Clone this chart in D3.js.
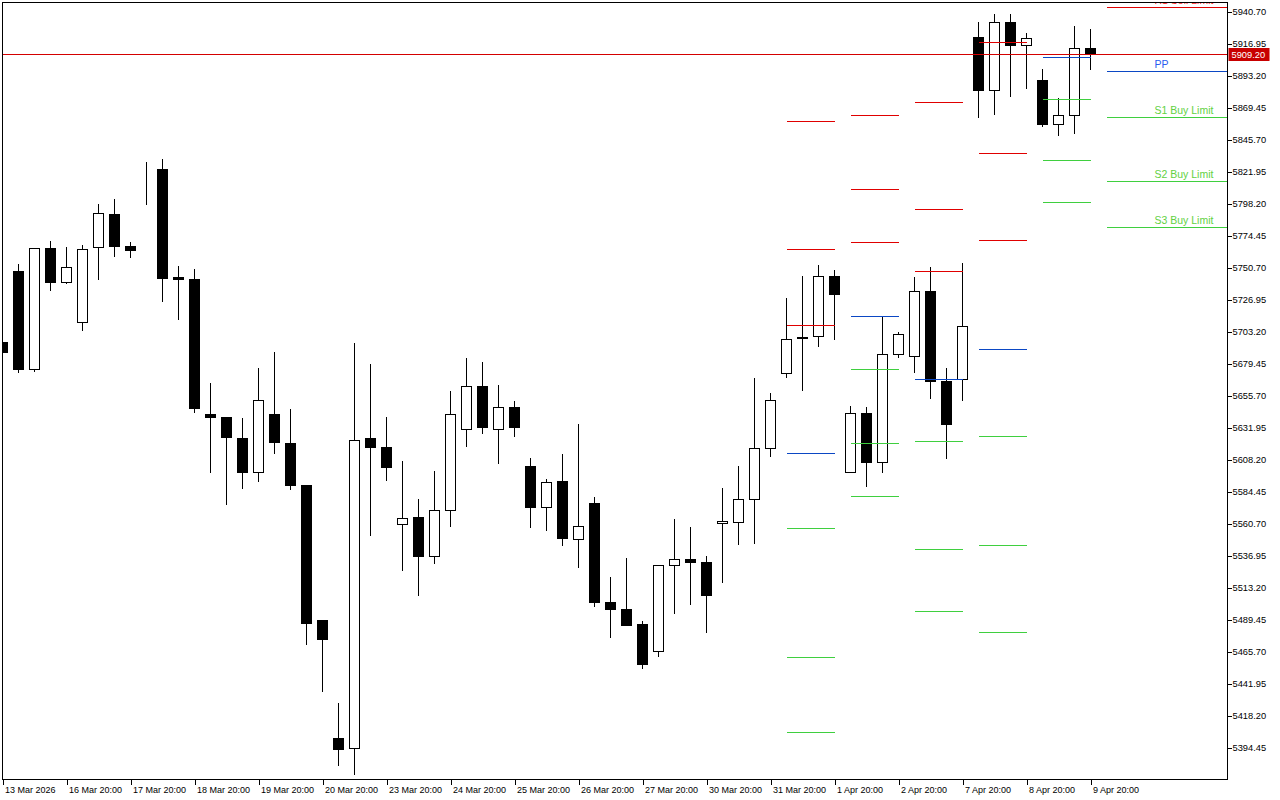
<!DOCTYPE html>
<html>
<head>
<meta charset="utf-8">
<script src="https://cdn.jsdelivr.net/npm/d3@7"></script>
<style>
  html, body { margin: 0; padding: 0; background: #fff; }
  svg { display: block; font-family: "Liberation Sans", Arial, sans-serif; }
</style>
</head>
<body>
<div id="chart"></div>
<script>
// Time axis labels (one every 4 bars)
const tickDates = ['13 Mar 2026', '16 Mar 20:00', '17 Mar 20:00', '18 Mar 20:00', '19 Mar 20:00', '20 Mar 20:00',
  '23 Mar 20:00', '24 Mar 20:00', '25 Mar 20:00', '26 Mar 20:00', '27 Mar 20:00', '30 Mar 20:00',
  '31 Mar 20:00', '1 Apr 20:00', '2 Apr 20:00', '7 Apr 20:00', '8 Apr 20:00', '9 Apr 20:00'];

// Price axis labels
const priceTicks = [5940.70, 5916.95, 5893.20, 5869.45, 5845.70, 5821.95, 5798.20, 5774.45, 5750.70, 5726.95,
  5703.20, 5679.45, 5655.70, 5631.95, 5608.20, 5584.45, 5560.70, 5536.95, 5513.20, 5489.45, 5465.70, 5441.95,
  5418.20, 5394.45];

// OHLC, one value per bar
const opens = [5695.6, 5748.2, 5675.0, 5765.1, 5739.6, 5709.9, 5765.5, 5790.6, 5766.6, 5823.7,
  5824.0, 5743.8, 5742.3, 5642.1, 5639.7, 5624.1, 5598.8, 5642.1, 5620.6, 5589.4,
  5488.7, 5401.6, 5394.0, 5624.3, 5617.6, 5560.2, 5565.7, 5536.5, 5570.6, 5630.8,
  5662.9, 5630.8, 5647.3, 5603.5, 5572.9, 5592.4, 5549.1, 5576.1, 5502.6, 5497.4,
  5486.3, 5466.0, 5529.8, 5534.3, 5532.0, 5561.0, 5561.7, 5578.8, 5616.7, 5672.3,
  5699.0, 5699.8, 5744.3, 5598.8, 5642.6, 5606.3, 5686.4, 5684.9, 5733.2, 5666.6,
  5667.9, 5921.9, 5882.4, 5932.8, 5915.5, 5889.3, 5857.1, 5863.8, 5913.5];
const highs = [5696.3, 5754.0, 5765.4, 5771.3, 5766.8, 5768.3, 5798.7, 5802.2, 5770.5, 5829.9,
  5831.9, 5752.7, 5750.5, 5665.6, 5640.6, 5639.7, 5676.8, 5688.9, 5646.6, 5590.2,
  5490.0, 5428.4, 5695.3, 5680.0, 5640.6, 5608.0, 5579.8, 5600.6, 5659.9, 5684.4,
  5681.5, 5664.4, 5652.5, 5610.2, 5594.6, 5613.2, 5635.4, 5581.3, 5521.9, 5536.0,
  5489.2, 5530.6, 5564.9, 5559.0, 5537.5, 5587.9, 5604.3, 5669.6, 5658.4, 5729.0,
  5745.3, 5753.4, 5749.7, 5648.8, 5648.1, 5714.6, 5703.7, 5744.5, 5752.0, 5677.0,
  5754.9, 5933.8, 5939.0, 5939.0, 5925.6, 5898.2, 5877.4, 5930.8, 5927.9];
const lows = [5687.4, 5672.8, 5673.5, 5733.6, 5739.2, 5703.9, 5741.8, 5758.9, 5758.1, 5797.5,
  5725.5, 5712.1, 5643.1, 5598.5, 5574.8, 5586.7, 5591.9, 5612.9, 5586.2, 5470.9,
  5436.0, 5381.8, 5375.1, 5551.8, 5592.6, 5525.8, 5507.3, 5531.0, 5558.5, 5617.8,
  5627.5, 5605.2, 5625.3, 5557.7, 5555.5, 5544.4, 5528.0, 5499.1, 5476.1, 5485.0,
  5453.1, 5462.0, 5493.9, 5500.6, 5480.5, 5517.6, 5545.1, 5545.9, 5610.4, 5669.1,
  5659.4, 5692.1, 5697.3, 5598.5, 5588.2, 5598.5, 5684.2, 5672.8, 5653.5, 5608.9,
  5652.0, 5862.0, 5864.3, 5877.6, 5883.6, 5855.3, 5848.7, 5850.2, 5897.7];
const closes = [5687.6, 5675.0, 5765.1, 5739.6, 5751.0, 5764.4, 5791.1, 5766.3, 5763.3, 5823.5,
  5742.5, 5741.8, 5646.0, 5639.4, 5624.5, 5598.5, 5652.3, 5620.8, 5588.9, 5486.5,
  5475.3, 5393.0, 5622.8, 5617.1, 5602.3, 5564.7, 5536.2, 5570.6, 5641.9, 5662.7,
  5631.9, 5647.1, 5631.9, 5572.6, 5591.4, 5549.6, 5558.8, 5502.1, 5496.9, 5485.7,
  5456.3, 5529.8, 5534.3, 5531.7, 5507.3, 5562.5, 5578.8, 5616.7, 5652.3, 5697.6,
  5698.0, 5744.3, 5730.7, 5642.6, 5606.0, 5686.4, 5701.3, 5733.2, 5666.1, 5634.2,
  5707.2, 5882.1, 5932.8, 5915.5, 5921.0, 5856.8, 5863.8, 5913.5, 5909.2];

// Daily pivot levels (first bar of each day)
const levelStart = [49, 53, 57, 61, 65];
const r3Levels = [5859.6, 5864.0, 5873.7, 5917.5, 6029.6];
const r2Levels = [5764.6, 5809.1, 5794.3, 5835.8, 5984.3];
const r1Levels = [5708.2, 5769.8, 5748.0, 5771.0, 5952.6];
const ppLevels = [5613.2, 5714.6, 5667.9, 5690.1, 5906.9];
const s1Levels = [5557.5, 5675.3, 5621.9, 5625.6, 5875.7];
const s2Levels = [5461.8, 5620.4, 5541.7, 5544.7, 5830.4];
const s3Levels = [5406.1, 5581.0, 5495.7, 5480.1, 5799.2];

// Current day levels with labels
const futureStart = 69;
const futureNames = ['R1 Sell Limit', 'PP', 'S1 Buy Limit', 'S2 Buy Limit', 'S3 Buy Limit'];
const futureValues = [5944.0, 5896.7, 5862.5, 5815.0, 5780.9];

const currentPrice = 5909.20;

const width = 1280;
const height = 800;
const plotLeft = 2.5, plotTop = 2.5, plotRight = 1227.5, plotBottom = 779.5;

const RED = '#e00000', BLUE = '#0b47c4', GREEN = '#3fcf3f';

function drawChart() {
  const svg = d3.select('#chart').append('svg').attr('width', width).attr('height', height);

  const x = d3.scaleLinear().domain([0, 68]).range([2.5, 1090.5]);
  const y = d3.scaleLinear().domain([5394.45, 5940.70]).range([748, 11.7]);
  const py = (v) => Math.round(y(v) - 0.5) + 0.5;

  svg.append('defs').append('clipPath').attr('id', 'plot-clip')
    .append('rect').attr('x', plotLeft).attr('y', plotTop)
    .attr('width', plotRight - plotLeft).attr('height', plotBottom - plotTop);

  const plot = svg.append('g').attr('clip-path', 'url(#plot-clip)');

  // candles
  const bars = d3.range(opens.length);
  const candle = plot.selectAll('.candle').data(bars).enter().append('g')
    .attr('class', 'candle').attr('shape-rendering', 'crispEdges');
  candle.append('line')
    .attr('x1', (i) => x(i)).attr('x2', (i) => x(i))
    .attr('y1', (i) => py(highs[i])).attr('y2', (i) => py(lows[i]))
    .attr('stroke', '#000');
  candle.append('rect')
    .attr('x', (i) => x(i) - 5).attr('width', 10)
    .attr('y', (i) => py(Math.max(opens[i], closes[i])))
    .attr('height', (i) => Math.max(0, py(Math.min(opens[i], closes[i])) - py(Math.max(opens[i], closes[i]))))
    .attr('fill', (i) => (closes[i] >= opens[i] ? '#fff' : '#000'))
    .attr('stroke', '#000');

  // pivot levels per day
  const rows = [
    { vals: r3Levels, color: RED }, { vals: r2Levels, color: RED }, { vals: r1Levels, color: RED },
    { vals: ppLevels, color: BLUE },
    { vals: s1Levels, color: GREEN }, { vals: s2Levels, color: GREEN }, { vals: s3Levels, color: GREEN },
  ];
  const segs = [];
  rows.forEach((r) => levelStart.forEach((s, j) => segs.push({ s, v: r.vals[j], color: r.color })));
  plot.selectAll('.level').data(segs).enter().append('line')
    .attr('class', 'level').attr('shape-rendering', 'crispEdges')
    .attr('x1', (d) => x(d.s)).attr('x2', (d) => x(d.s + 3))
    .attr('y1', (d) => py(d.v)).attr('y2', (d) => py(d.v))
    .attr('stroke', (d) => d.color);

  // current day levels
  const futureColor = (n) => (n[0] === 'R' ? RED : n === 'PP' ? BLUE : GREEN);
  const textColor = (n) => (n[0] === 'R' ? '#ff2a2a' : n === 'PP' ? '#2a5cf0' : '#62d143');
  plot.selectAll('.future').data(futureNames).enter().append('line')
    .attr('class', 'future').attr('shape-rendering', 'crispEdges')
    .attr('x1', x(futureStart)).attr('x2', plotRight)
    .attr('y1', (d, i) => py(futureValues[i])).attr('y2', (d, i) => py(futureValues[i]))
    .attr('stroke', (d) => futureColor(d));
  plot.selectAll('.future-label').data(futureNames).enter().append('text')
    .attr('x', x(futureStart + 3))
    .attr('y', (d, i) => py(futureValues[i]) - 3.5)
    .attr('font-size', '10.5px')
    .attr('fill', (d) => textColor(d))
    .text((d) => d);

  // current price line
  plot.append('line').attr('shape-rendering', 'crispEdges')
    .attr('x1', plotLeft).attr('x2', plotRight)
    .attr('y1', py(currentPrice)).attr('y2', py(currentPrice))
    .attr('stroke', '#d40000');

  // frame
  svg.append('rect').attr('shape-rendering', 'crispEdges')
    .attr('x', plotLeft).attr('y', plotTop)
    .attr('width', plotRight - plotLeft).attr('height', plotBottom - plotTop)
    .attr('fill', 'none').attr('stroke', '#000');

  // price axis
  const yAxis = d3.axisRight(y).tickValues(priceTicks).tickSize(4).tickPadding(1)
    .tickFormat(d3.format('.2f'));
  const ya = svg.append('g').attr('transform', `translate(${plotRight},0)`).call(yAxis);
  ya.select('.domain').remove();
  ya.selectAll('.tick line').attr('stroke', '#000').attr('shape-rendering', 'crispEdges');
  ya.selectAll('.tick text').attr('font-size', '9.3px').attr('fill', '#000')
    .attr('font-family', '"Liberation Sans", Arial, sans-serif');

  // current price tag
  const tag = svg.append('g').attr('transform', `translate(${plotRight + 1},${py(currentPrice)})`);
  tag.append('rect').attr('x', 0).attr('y', -6.5).attr('width', 41).attr('height', 13).attr('fill', '#c80000');
  tag.append('text').attr('x', 3).attr('y', 3.5).attr('font-size', '9.3px').attr('fill', '#fff')
    .text(d3.format('.2f')(currentPrice));

  // time axis
  const xAxis = d3.axisBottom(x).tickValues(tickDates.map((d, i) => i * 4)).tickSize(5).tickPadding(2)
    .tickFormat((d, i) => tickDates[i]);
  const xa = svg.append('g').attr('transform', `translate(0,${plotBottom})`).call(xAxis);
  xa.select('.domain').remove();
  xa.selectAll('.tick line').attr('stroke', '#000').attr('shape-rendering', 'crispEdges');
  xa.selectAll('.tick text').attr('text-anchor', 'start').attr('dx', 2)
    .attr('font-size', '9px').attr('fill', '#000')
    .attr('font-family', '"Liberation Sans", Arial, sans-serif');
}

document.addEventListener('DOMContentLoaded', drawChart);
</script>
</body>
</html>
